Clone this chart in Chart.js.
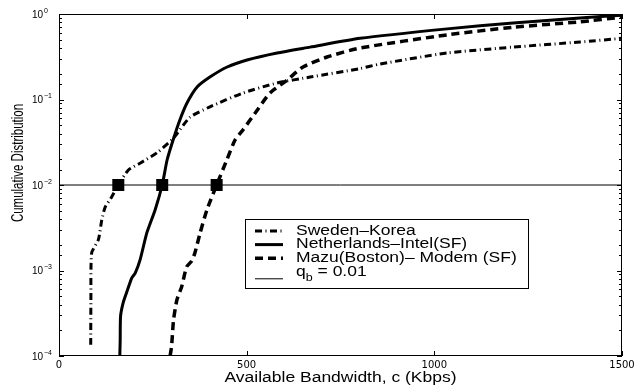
<!DOCTYPE html>
<html>
<head>
<meta charset="utf-8">
<script src="https://cdn.jsdelivr.net/npm/chart.js@4/dist/chart.umd.min.js"></script>
<style>
  html, body { margin: 0; padding: 0; background: #fff; }
  canvas { display: block; }
</style>
</head>
<body>
<canvas id="cdfChart" width="639" height="385"></canvas>
<script>
// available bandwidth (Kbps) and cumulative distribution
const swedenBw  = [84.5, 85, 87, 105, 114, 123, 140, 158, 185, 216, 262, 304, 349, 402, 490, 581, 669, 802, 855, 1034, 1210, 1388, 1500];
const swedenCdf = [1.35e-4, 4.5e-4, 1.6e-3, 2.3e-3, 3.9e-3, 5.5e-3, 7.2e-3, 0.01, 0.015, 0.018, 0.024, 0.035, 0.062, 0.082, 0.119, 0.156, 0.183, 0.23, 0.26, 0.35, 0.41, 0.47, 0.52];

const dutchBw  = [162, 163, 164, 171, 180, 194, 203, 216, 234, 256, 275, 288, 304, 322, 341, 368, 402, 448, 501, 581, 669, 802, 1034, 1210, 1388, 1500];
const dutchCdf = [1e-4, 1.5e-4, 2.9e-4, 4.2e-4, 5.5e-4, 8.2e-4, 9.3e-4, 1.33e-3, 2.75e-3, 5.1e-3, 0.01, 0.0196, 0.0336, 0.0576, 0.091, 0.14, 0.183, 0.24, 0.29, 0.35, 0.41, 0.52, 0.67, 0.785, 0.9, 0.97];

const mazuBw  = [296, 300, 305, 314, 327, 340, 354, 362, 376, 394, 420, 447, 469, 490, 528, 562, 608, 650, 714, 802, 1034, 1210, 1388, 1500];
const mazuCdf = [1e-4, 1.3e-4, 2.6e-4, 4.5e-4, 6.5e-4, 1.1e-3, 1.3e-3, 1.6e-3, 2.75e-3, 5.1e-3, 0.01, 0.0196, 0.0336, 0.044, 0.075, 0.119, 0.169, 0.24, 0.314, 0.40, 0.57, 0.70, 0.81, 0.92];

const qb = 0.01;
const qbRange = [0, 1500];
const markerBw = [158, 275, 420];   // where each curve crosses qb

const xTicks = [0, 500, 1000, 1500];
const yDecades = [1e-4, 1e-3, 1e-2, 1e-1, 1];

const seriesLabels = ['Sweden\u2013Korea', 'Netherlands\u2013Intel(SF)', 'Mazu(Boston)\u2013 Modem (SF)', 'q_b = 0.01'];
const xTitle = 'Available Bandwidth, c (Kbps)';
const yTitle = 'Cumulative Distribution';

const toPts = (xs, ys) => xs.map((x, i) => ({ x: x, y: ys[i] }));

const SX = 1.25; // the original figure is stretched sideways
function wideText(ctx, str, x, y, size, align) {
    ctx.save();
    ctx.translate(x, y);
    ctx.scale(SX, 1);
    ctx.font = size + 'px "Liberation Sans", Arial, sans-serif';
    ctx.textAlign = align || 'left';
    ctx.textBaseline = 'middle';
    ctx.fillText(str, 0, 0);
    const w = ctx.measureText(str).width * SX;
    ctx.restore();
    return w;
}

// frame, inward ticks, y labels, titles and the boxed legend
const decorPlugin = {
    id: 'decor',
    afterDraw(chart) {
        const ctx = chart.ctx;
        const a = chart.chartArea;
        const xs = chart.scales.x, ys = chart.scales.y;
        ctx.save();
        ctx.strokeStyle = '#000';
        ctx.fillStyle = '#000';
        ctx.lineWidth = 1;

        ctx.strokeRect(a.left + 0.5, a.top + 0.5, a.right - a.left - 1, a.bottom - a.top - 1);

        // y ticks (log minors too) on both sides
        ys.ticks.forEach(t => {
            const p = Math.round(ys.getPixelForValue(t.value)) + 0.5;
            const e = Math.log10(t.value);
            const major = Math.abs(e - Math.round(e)) < 1e-6;
            const len = major ? 5 : 3;
            ctx.beginPath();
            ctx.moveTo(a.left, p); ctx.lineTo(a.left + len, p);
            ctx.moveTo(a.right, p); ctx.lineTo(a.right - len, p);
            ctx.stroke();
        });
        // x ticks top and bottom
        xs.ticks.forEach(t => {
            const p = Math.round(xs.getPixelForValue(t.value)) + 0.5;
            ctx.beginPath();
            ctx.moveTo(p, a.bottom); ctx.lineTo(p, a.bottom - 5);
            ctx.moveTo(p, a.top); ctx.lineTo(p, a.top + 5);
            ctx.stroke();
        });

        // y labels 10^k
        yDecades.forEach(v => {
            const p = ys.getPixelForValue(v);
            const e = Math.round(Math.log10(v));
            ctx.font = '10px "Liberation Sans", Arial, sans-serif';
            ctx.textAlign = 'right';
            ctx.textBaseline = 'middle';
            ctx.fillText('10', a.left - 16, p + 1);
            ctx.font = '7px "Liberation Sans", Arial, sans-serif';
            ctx.textAlign = 'left';
            ctx.fillText(e === 0 ? '0' : '\u2212' + Math.abs(e), a.left - 15, p - 3);
        });

        // axis titles
        ctx.fillStyle = '#000';
        wideText(ctx, xTitle, (a.left + a.right) / 2, 378, 14, 'center');
        ctx.save();
        ctx.translate(18, 163);
        ctx.rotate(-Math.PI / 2);
        ctx.scale(1, 1.45);
        ctx.font = '11.5px "Liberation Sans", Arial, sans-serif';
        ctx.textAlign = 'center';
        ctx.textBaseline = 'middle';
        ctx.fillText(yTitle, 0, 0);
        ctx.restore();

        // legend box
        const bx = a.left + 186, by = a.top + 205, bw = 283, bh = 69;
        ctx.fillStyle = '#fff';
        ctx.fillRect(bx, by, bw, bh);
        ctx.strokeStyle = '#000';
        ctx.lineWidth = 1;
        ctx.strokeRect(bx + 0.5, by + 0.5, bw, bh);
        const items = chart.data.datasets.filter(d => !d.noLegend);
        items.forEach((d, i) => {
            const ry = by + 12 + i * 13.6;
            const sub = d.label.indexOf('_') >= 0;
            const ly = sub ? ry + 7 : ry;
            ctx.save();
            ctx.strokeStyle = d.borderColor;
            ctx.lineWidth = d.borderWidth;
            ctx.setLineDash(d.borderDash || []);
            ctx.beginPath();
            ctx.moveTo(bx + 10, ly); ctx.lineTo(bx + 38, ly);
            ctx.stroke();
            ctx.restore();
            ctx.fillStyle = '#000';
            const tx = bx + 51;
            if (sub) {
                const parts = d.label.split('_');
                const w = wideText(ctx, parts[0], tx, ry, 14);
                const w2 = wideText(ctx, parts[1].charAt(0), tx + w, ry + 6, 10);
                wideText(ctx, parts[1].slice(1), tx + w + w2, ry, 14);
            } else {
                wideText(ctx, d.label, tx, ry, 14);
            }
        });
        ctx.restore();
    }
};

new Chart(document.getElementById('cdfChart'), {
    type: 'line',
    data: {
        datasets: [{
            label: seriesLabels[0],
            data: toPts(swedenBw, swedenCdf),
            borderColor: '#000',
            borderWidth: 3,
            borderDash: [7, 3.5, 1, 3.5],
            pointRadius: 0,
            tension: 0.2
        }, {
            label: seriesLabels[1],
            data: toPts(dutchBw, dutchCdf),
            borderColor: '#000',
            borderWidth: 3,
            pointRadius: 0,
            tension: 0.2
        }, {
            label: seriesLabels[2],
            data: toPts(mazuBw, mazuCdf),
            borderColor: '#000',
            borderWidth: 3.5,
            borderDash: [8, 5],
            pointRadius: 0,
            tension: 0.2
        }, {
            label: seriesLabels[3],
            data: qbRange.map(x => ({ x: x, y: qb })),
            borderColor: '#000',
            borderWidth: 1,
            pointRadius: 0
        }, {
            label: 'crossings',
            noLegend: true,
            data: markerBw.map(x => ({ x: x, y: qb })),
            showLine: false,
            pointStyle: 'rect',
            pointRadius: 8.5,
            backgroundColor: '#000',
            borderColor: '#000',
            borderWidth: 0
        }]
    },
    options: {
        responsive: false,
        animation: false,
        layout: { padding: { top: 14, right: 17, left: 0, bottom: 0 } },
        plugins: { legend: { display: false }, tooltip: { enabled: false } },
        scales: {
            x: {
                type: 'linear',
                min: xTicks[0],
                max: xTicks[xTicks.length - 1],
                afterBuildTicks: s => { s.ticks = xTicks.map(v => ({ value: v })); },
                ticks: {
                    color: '#000',
                    font: { family: 'DejaVu Sans', size: 10 },
                    padding: 3,
                    maxRotation: 0,
                    autoSkip: false,
                    callback: v => String(v)
                },
                grid: { display: false, drawTicks: false },
                border: { display: false },
                afterFit: s => { s.height = 29; }
            },
            y: {
                type: 'logarithmic',
                min: yDecades[0],
                max: yDecades[yDecades.length - 1],
                ticks: { display: false, autoSkip: false },
                grid: { display: false, drawTicks: false },
                border: { display: false },
                afterFit: s => { s.width = 59; }
            }
        }
    },
    plugins: [decorPlugin]
});
</script>
</body>
</html>
